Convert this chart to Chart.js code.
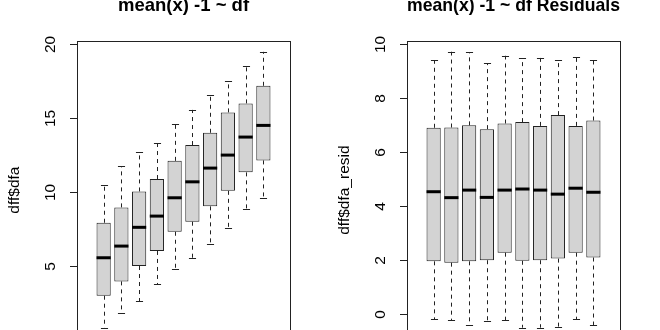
<!DOCTYPE html>
<html>
<head>
<meta charset="utf-8">
<script src="https://cdn.jsdelivr.net/npm/chart.js@4"></script>
<style>
  html, body { margin: 0; padding: 0; width: 660px; height: 330px; overflow: hidden; background: #fff; }
  .panel { position: absolute; top: -10px; width: 330px; height: 362px; }
  #left { left: 0; }
  #right { left: 330px; }
</style>
</head>
<body>
<div class="panel" id="left"><canvas id="chart-left"></canvas></div>
<div class="panel" id="right"><canvas id="chart-right"></canvas></div>
<script>
// group positions 1..10
const groups = [1, 2, 3, 4, 5, 6, 7, 8, 9, 10]

// dff$dfa by df
const dfaLow  = [0.80, 1.82, 2.61, 3.76, 4.76, 5.52, 6.49, 7.57, 8.82, 9.60]
const dfaQ1   = [2.97, 3.94, 4.98, 6.00, 7.30, 7.98, 9.02, 10.07, 11.32, 12.13]
const dfaMed  = [5.54, 6.33, 7.60, 8.36, 9.60, 10.68, 11.61, 12.49, 13.71, 14.50]
const dfaQ3   = [7.91, 8.95, 10.03, 10.87, 12.10, 13.17, 14.00, 15.38, 15.99, 17.18]
const dfaHigh = [10.46, 11.75, 12.71, 13.32, 14.61, 15.55, 16.53, 17.48, 18.53, 19.48]
const dfaTicks = [5, 10, 15, 20]

// dff$dfa_resid by df
const residLow  = [-0.20, -0.23, -0.41, -0.26, -0.23, -0.51, -0.51, -0.47, -0.20, -0.41]
const residQ1   = [1.95, 1.90, 1.95, 1.99, 2.27, 1.97, 1.99, 2.05, 2.27, 2.09]
const residMed  = [4.53, 4.31, 4.59, 4.32, 4.59, 4.63, 4.59, 4.44, 4.66, 4.51]
const residQ3   = [6.90, 6.91, 6.99, 6.85, 7.06, 7.11, 6.97, 7.37, 6.97, 7.17]
const residHigh = [9.41, 9.72, 9.70, 9.30, 9.57, 9.48, 9.49, 9.42, 9.52, 9.42]
const residTicks = [0, 2, 4, 6, 8, 10]

const FONT = '"Liberation Sans", Arial, sans-serif'
const INK = '#222'

// whiskers, staples and medians on top of the floating bars
const boxplotParts = {
  id: 'boxplotParts',
  afterDatasetsDraw(chart) {
    const ctx = chart.ctx
    const y = chart.scales.y
    const ds = chart.data.datasets[0]
    const meta = chart.getDatasetMeta(0)
    ctx.save()
    meta.data.forEach((bar, i) => {
      const x = Math.round(bar.x) + 0.5
      const half = bar.width / 2
      const pLow = y.getPixelForValue(ds.lows[i])
      const pHigh = y.getPixelForValue(ds.highs[i])
      const pQ1 = y.getPixelForValue(ds.data[i].y[0])
      const pQ3 = y.getPixelForValue(ds.data[i].y[1])
      const pMed = y.getPixelForValue(ds.medians[i])

      ctx.strokeStyle = INK
      ctx.lineWidth = 1
      ctx.setLineDash([4, 4])
      ctx.beginPath()
      ctx.moveTo(x, pQ3); ctx.lineTo(x, pHigh)
      ctx.moveTo(x, pQ1); ctx.lineTo(x, pLow)
      ctx.stroke()

      ctx.setLineDash([])
      ctx.beginPath()
      ctx.moveTo(x - half / 2, Math.round(pHigh) + 0.5); ctx.lineTo(x + half / 2, Math.round(pHigh) + 0.5)
      ctx.moveTo(x - half / 2, Math.round(pLow) + 0.5); ctx.lineTo(x + half / 2, Math.round(pLow) + 0.5)
      ctx.stroke()

      ctx.strokeStyle = '#000'
      ctx.lineWidth = 3
      ctx.beginPath()
      ctx.moveTo(bar.x - half, pMed); ctx.lineTo(bar.x + half, pMed)
      ctx.stroke()
    })
    ctx.restore()
  }
}

// frame, left axis ticks and rotated labels
const frameAxis = {
  id: 'frameAxis',
  afterDraw(chart) {
    const ctx = chart.ctx
    const {left, right, top, bottom} = chart.chartArea
    const y = chart.scales.y
    const opts = chart.options.plugins.frameAxis
    ctx.save()
    ctx.strokeStyle = INK
    ctx.lineWidth = 1
    ctx.strokeRect(Math.round(left) + 0.5, Math.round(top) + 0.5, Math.round(right - left), Math.round(bottom - top))

    ctx.fillStyle = '#000'
    ctx.font = '15.5px ' + FONT
    ctx.textAlign = 'center'
    ctx.textBaseline = 'alphabetic'
    opts.ticks.forEach(v => {
      const py = Math.round(y.getPixelForValue(v)) + 0.5
      ctx.beginPath()
      ctx.moveTo(left - 7, py); ctx.lineTo(left, py)
      ctx.stroke()
      ctx.save()
      ctx.translate(left - 22, py)
      ctx.rotate(-Math.PI / 2)
      ctx.fillText(String(v), 0, 0)
      ctx.restore()
    })

    ctx.save()
    ctx.translate(18.5, (top + bottom) / 2)
    ctx.rotate(-Math.PI / 2)
    ctx.fillText(opts.title, 0, 0)
    ctx.restore()
    ctx.restore()
  }
}

const crearPanel = (canvasId, title, axisTitle, q1, med, q3, low, high, ticks, yMin, yMax) => {
  const ctx = document.querySelector(canvasId).getContext('2d')
  return new Chart(ctx, {
    type: 'bar',
    data: {
      datasets: [{
        data: groups.map((g, i) => ({x: g, y: [q1[i], q3[i]]})),
        medians: med,
        lows: low,
        highs: high,
        backgroundColor: '#d3d3d3',
        borderColor: INK,
        borderWidth: 1,
        borderSkipped: false,
        barPercentage: 0.8,
        categoryPercentage: 1
      }]
    },
    options: {
      responsive: true,
      maintainAspectRatio: false,
      animation: false,
      layout: { padding: { left: 77, right: 40, top: 0, bottom: 13 } },
      scales: {
        x: { type: 'linear', min: 0.1, max: 10.9, display: false, ticks: { stepSize: 1, includeBounds: false } },
        y: { min: yMin, max: yMax, display: false }
      },
      plugins: {
        legend: { display: false },
        tooltip: { enabled: false },
        title: {
          display: true,
          text: title,
          color: '#000',
          font: { family: FONT, size: 18.5, weight: 'bold' },
          padding: { top: 5, bottom: 24 }
        },
        frameAxis: { ticks: ticks, title: axisTitle }
      }
    },
    plugins: [boxplotParts, frameAxis]
  })
}

crearPanel('#chart-left', 'mean(x) -1 ~ df', 'dff$dfa', dfaQ1, dfaMed, dfaQ3, dfaLow, dfaHigh, dfaTicks, 0.04, 20.2)
crearPanel('#chart-right', 'mean(x) -1 ~ df Residuals', 'dff$dfa_resid', residQ1, residMed, residQ3, residLow, residHigh, residTicks, -0.93, 10.11)
</script>
</body>
</html>
